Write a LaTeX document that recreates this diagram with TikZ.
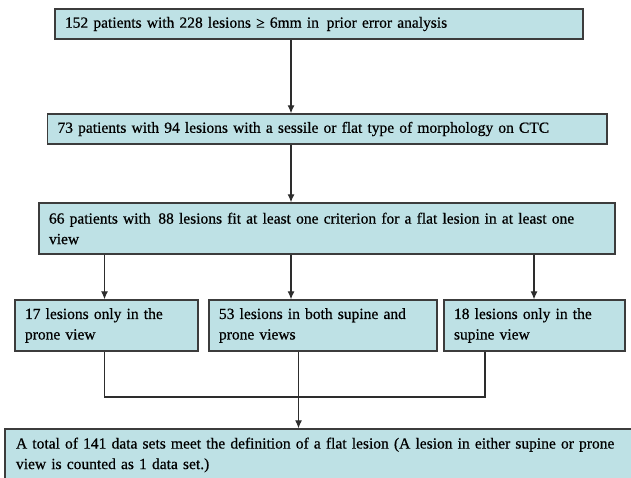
\documentclass[tikz,border=0pt]{standalone}
\usepackage{fontspec}
\setmainfont{Liberation Serif}
\newfontfamily\boxfont{Liberation Serif}[FakeBold=0.6]
\usetikzlibrary{arrows.meta}
\definecolor{boxfill}{RGB}{190,225,229}
\definecolor{boxline}{RGB}{60,60,60}
\definecolor{conline}{RGB}{45,45,45}
\begin{document}
\begin{tikzpicture}[x=1pt,y=-1pt,
  flowbox/.style={draw=boxline,line width=1.4pt,fill=boxfill,inner xsep=10pt,inner ysep=0pt,
    align=left,font=\boxfont\fontsize{15.5}{20.5}\selectfont,anchor=center},
  arr/.style={draw=conline,line width=1.1pt,-{Latex[length=8pt,width=7pt]}},
  con/.style={draw=conline,line width=1.1pt}]
\useasboundingbox (0,0) rectangle (631,478);
\fill[white] (0,0) rectangle (631,478);
\node[flowbox,minimum width=528pt,minimum height=30pt,text width=508pt] (b1) at (319,24)
  {152 patients with 228 lesions ≥ 6mm in\, prior error analysis};
\node[flowbox,minimum width=559.5pt,minimum height=30pt,text width=539.5pt] (b2) at (327.25,129)
  {73 patients with 94 lesions with a sessile or flat type of morphology on CTC};
\node[flowbox,minimum width=576pt,minimum height=51pt,text width=556pt] (b3) at (327,228.5)
  {66 patients with\, 88 lesions fit at least one criterion for a flat lesion in at least one\\view};
\node[flowbox,minimum width=183pt,minimum height=51pt,text width=163pt] (b4) at (106.5,325.5)
  {17 lesions only in the\\prone view};
\node[flowbox,minimum width=228pt,minimum height=51pt,text width=208pt] (b5) at (323,325.5)
  {53 lesions in both supine and\\prone views};
\node[flowbox,minimum width=181pt,minimum height=51pt,text width=161pt] (b6) at (534.5,325.5)
  {18 lesions only in the\\supine view};
\node[flowbox,minimum width=635pt,minimum height=52pt,text width=613pt,inner xsep=11pt] (b7) at (322.5,455)
  {A total of 141 data sets meet the definition of a flat lesion (A lesion in either supine or prone\\view is counted as 1 data set.)};
\coordinate (cm) at (291,0);
\coordinate (cl) at (104.5,0);
\coordinate (cr) at (534,0);
\coordinate (cb) at (298.5,0);
\coordinate (cs) at (485,0);
\coordinate (mergey) at (0,397);
\draw[arr] (b1.south -| cm) -- (b2.north -| cm);
\draw[arr] (b2.south -| cm) -- (b3.north -| cm);
\draw[arr] (b3.south -| cl) -- (b4.north -| cl);
\draw[arr] (b3.south -| cm) -- (b5.north -| cm);
\draw[arr] (b3.south -| cr) -- (b6.north -| cr);
\draw[con] (b4.south -| cl) -- (mergey -| cl) -- (mergey -| cs) -- (b6.south -| cs);
\draw[arr] (b5.south -| cb) -- (b7.north -| cb);
\end{tikzpicture}
\end{document}
